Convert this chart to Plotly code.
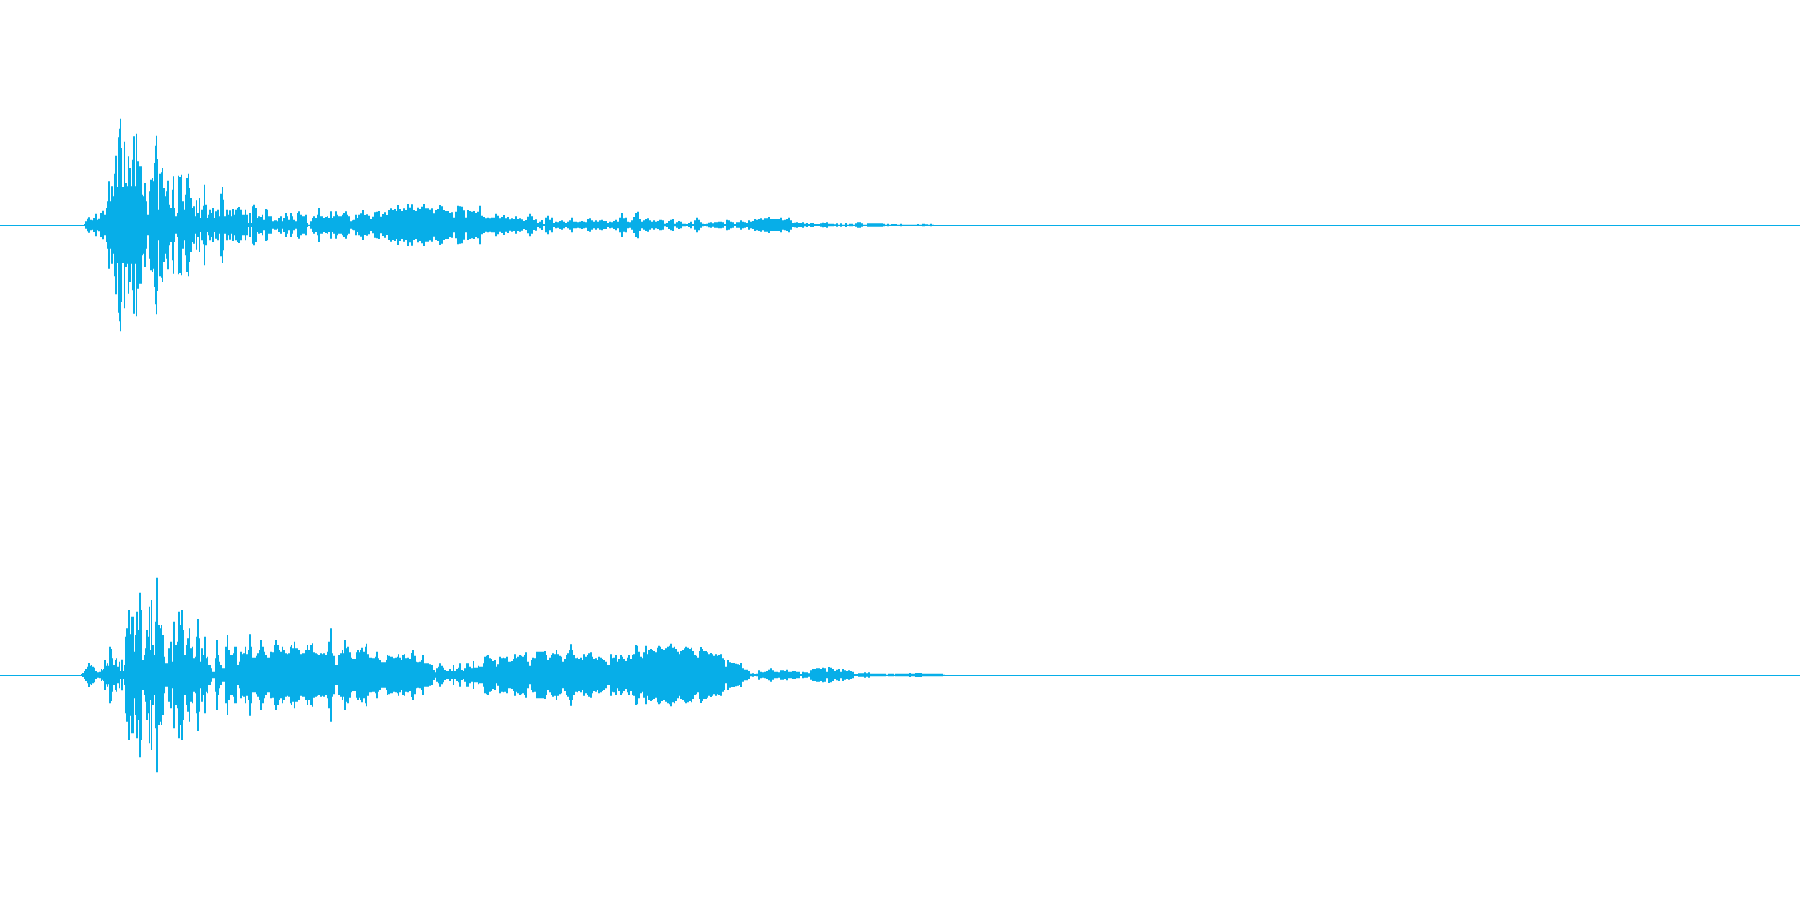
import numpy as np
import plotly.graph_objects as go

# Time unit: 1/3 of a screen column, total 5400 units. Amplitude full scale: +-675.
TOTAL_TIME = 5400
FULL_SCALE = 675
WAVE_COLOR = "#07AEE8"
SEGMENT_STARTS = [180, 1080, 1980]

ch1_t_a = [72,76,80,85,90,95,100,106,110,115,121,127,132,137,141,145,150,154,158,161,165,170,175,178,181,184,187,191,196,200,205,208,212,216,219,224,228,232,236,241,245,249,253,258,262,266,270,275,279,283,286,289,292,295,298,302,306,310,314,318,322,326,330,335,339,342,346,350,354,358,363,367,371,375,379,383,387,391,395,399,404,408,412,416,420,424,428,432,436,440,445,448,453,457,461,465,471,476,481,485,489,493,497,503,508,512,517,522,526,531,535,540,545,550,554,558,563,568,572,576,580,585,590,595,600,605,610,615,620,625,630,636,642,650,655,660,665,670,675,680,685,690,695,700,705,710,715,720,725,730,735,740,745,750,755,760,765,770,775,780,785,790,795,800,805,810,815,820,825,830,835,840,845,850,855,860,865,870,875,880,885,890,895]
ch1_a_a = [3,11,19,23,16,14,21,34,16,19,36,43,31,51,71,131,71,116,86,154,208,114,263,289,319,231,114,250,126,116,206,171,116,196,266,116,274,191,176,176,91,86,126,71,31,101,136,141,131,186,238,268,198,46,154,158,171,111,86,101,133,61,51,106,146,51,26,36,148,144,151,71,46,91,141,154,111,81,51,56,26,74,36,81,21,46,58,121,61,21,31,46,36,51,21,41,46,26,94,114,76,26,46,31,44,26,48,31,46,51,54,46,31,31,46,31,6,36,6,56,61,51,21,26,24,31,16,48,46,26,26,11,14,11,21,26,11,21,36,26,16,36,26,16,11,36,41,31,26,26,31,6,1,11,21,26,21,31,51,26,26,21,24,26,21,41,21,26,41,31,26,26,31,36,41,31,26,11,14,16,31,21,31]

ch1_t_b = [0,6,12,18,24,30,36,42,48,54,60,66,72,78,84,90,96,102,108,112,118,124,130,136,142,148,154,160,166,172,178,184,188,194,200,206,212,218,224,230,238,244,250,256,262,268,274,280,286,292,298,304,310,316,322,328,334,340,346,352,356,362,368,374,380,386,392,398,404,410,416,422,428,434,440,446,452,458,464,470,476,482,488,494,500,506,512,518,524,530,536,542,548,554,560,566,572,578,584,590,596,602,608,614,620,626,632,638,644,650,656,662,668,674,680,686,692,698,704,710,716,722,728,734,740,746,752,758,764,770,776,782,788,794,800,806,812,818,824,830,836,842,848,854,860,866,872,878,884,890,896]
ch1_a_b = [35,45,30,32,28,18,25,38,40,42,25,33,38,30,45,50,45,48,42,60,48,42,50,45,63,52,62,45,42,52,48,55,63,50,50,46,50,35,45,48,60,56,45,42,42,36,38,22,40,58,56,55,44,22,45,42,40,42,36,40,58,28,24,20,22,20,22,22,34,28,20,24,30,20,24,17,20,18,26,18,20,17,12,15,25,34,26,15,17,6,10,15,3,22,28,16,22,6,10,8,12,14,10,6,10,14,22,10,10,8,10,12,10,8,18,20,14,10,14,10,14,16,12,12,6,10,8,12,16,10,22,36,20,22,10,8,14,24,36,40,18,10,14,18,20,14,10,14,10,12,16]

ch1_t_c = [0,6,12,18,24,30,36,42,48,54,60,66,72,78,84,90,96,102,108,114,120,126,132,138,144,150,156,162,168,174,180,186,192,198,204,210,216,222,228,234,240,246,252,258,264,270,276,282,288,294,300,306,312,318,324,330,336,342,348,354,360,366,372,378,384,390,396,402,408,414,420,426,432,438,444,450,456,462,468,474,480,486,492,498,504,510,516,522,528,534,540,546,552,556,562,568,574,580,586,592,598,604,610,616,620,626,632,664,670,676,682,688,694,700,706,712,720,726,770,776,786,792,796,804,810,816]
ch1_a_c = [16,14,4,6,12,16,18,4,8,12,10,4,4,3,6,10,3,14,22,16,8,4,3,4,7,8,5,8,8,10,10,8,3,16,14,10,8,3,8,8,14,10,8,6,14,10,12,18,16,18,20,16,20,20,24,18,18,18,18,18,22,14,16,18,22,14,6,7,8,6,6,8,4,6,3,6,6,3,3,3,5,7,6,8,4,4,4,2,5,1,5,1,1,6,1,4,4,1,5,8,8,5,1,1,5,5,5,5,4,1,4,1,3,3,3,1,4,1,3,1,4,4,2,1,4,1]

ch2_t_a = [63,67,71,75,80,85,89,92,97,101,105,110,116,122,126,129,133,137,141,144,148,152,156,160,164,168,172,176,180,184,188,192,196,199,205,209,214,218,222,225,229,233,238,243,247,251,255,259,263,268,271,274,277,281,285,288,291,295,299,303,307,312,316,320,325,330,335,340,345,350,355,360,364,368,373,378,382,386,390,395,400,405,409,412,417,421,424,429,433,437,441,445,449,453,457,461,465,469,473,477,481,485,490,495,500,504,509,513,518,522,527,532,536,541,546,550,554,558,563,568,572,577,582,587,592,597,601,606,611,615,620,625,630,636,642,646,650,656,660,665,670,675,680,685,689,693,697,701,705,710,715,720,725,730,735,740,745,750,755,760,765,770,775,780,785,790,795,800,805,810,815,820,825,830,835,840,845,850,853,857,862,867,872,877,882,887,892,897]
ch2_a_a = [3,6,12,18,25,36,28,30,25,22,12,8,10,18,14,18,45,28,35,28,85,78,50,30,45,50,25,40,12,46,12,30,115,140,195,122,175,175,70,120,190,135,247,195,45,60,80,135,115,205,75,225,90,60,160,292,292,150,140,150,120,55,35,35,80,100,40,160,90,100,190,150,195,135,60,90,110,140,80,85,50,55,115,168,110,40,80,60,115,50,55,30,30,20,10,10,50,105,60,40,30,20,20,85,120,75,60,60,65,85,85,30,40,70,62,65,85,62,75,122,85,52,52,58,65,75,105,85,70,60,52,52,70,68,90,105,90,75,70,85,75,65,62,65,85,90,80,100,80,80,75,62,65,65,75,90,75,90,95,68,65,62,60,65,62,65,60,70,100,140,65,58,30,30,60,65,75,65,105,80,85,68,52,48,48,68,75,68]

ch2_t_b = [0,4,9,14,18,22,27,31,36,41,45,49,53,58,62,67,72,77,81,85,90,95,100,105,110,113,118,122,126,131,136,141,146,152,156,162,168,172,177,182,187,192,198,203,208,213,218,224,228,233,238,243,248,253,258,263,268,273,278,283,288,293,298,303,308,313,318,323,328,333,338,343,348,353,358,363,368,372,377,382,387,392,397,402,407,412,418,423,428,433,438,443,448,453,458,462,467,472,477,482,487,492,496,501,506,512,517,522,528,533,540,548,552,557,562,567,572,577,582,587,592,597,602,606,612,617,622,627,630,635,640,645,650,655,660,665,670,675,680,685,690,695,700,705,710,715,720,725,730,735,740,745,750,755,760,765,770,775,780,785,790,795,800,805,810,815,820,825,830,835,840,845,850,855,860,865,870,875,880,885,890,895]
ch2_a_b = [75,82,70,85,94,62,52,52,50,50,55,70,50,45,38,38,38,45,60,58,55,55,50,52,55,62,52,45,60,62,50,52,48,66,75,58,40,38,40,45,60,35,35,35,32,30,15,8,20,25,35,28,22,15,12,12,18,12,30,12,18,22,35,15,12,20,35,35,25,20,42,22,22,28,25,25,35,55,58,60,50,48,42,45,25,32,55,50,52,50,55,40,40,42,48,62,50,55,60,58,55,60,68,40,28,45,52,50,70,70,70,70,72,60,45,52,60,65,62,75,62,58,55,40,48,60,65,75,92,75,60,50,52,48,52,45,62,55,60,65,68,55,48,50,45,55,52,48,45,40,30,30,62,50,52,60,40,48,60,55,48,42,52,60,48,60,62,90,88,70,55,50,68,88,62,75,78,75,72,68,82,88]

ch2_t_c = [0,4,9,14,18,22,27,31,36,41,46,51,56,61,66,71,76,81,86,92,97,102,107,112,116,120,125,130,135,140,145,150,155,160,165,170,175,180,186,191,196,201,206,212,218,224,230,236,241,246,252,258,264,270,276,282,288,294,300,306,312,318,324,330,336,342,348,354,360,366,372,378,384,390,396,402,408,414,420,426,432,438,444,450,456,462,468,474,480,486,492,498,504,510,516,522,528,534,540,546,552,558,564,570,576,582,588,594,600,606,612,618,624,630,660,666,672,678,684,696,702,706,714,744,748,754,760,764,770,776,780,786,848]
ch2_a_c = [85,78,75,80,80,85,88,94,82,85,78,70,62,72,75,80,85,82,78,82,72,60,58,52,72,84,78,72,72,68,62,66,62,58,62,58,60,62,50,45,25,45,38,36,36,34,32,30,36,20,16,16,12,4,5,3,4,14,10,8,10,12,16,20,14,10,10,8,14,14,12,16,10,10,12,12,10,10,3,10,8,8,5,14,18,18,20,20,18,22,20,10,24,22,18,12,16,18,10,18,14,12,14,12,10,3,3,5,5,5,8,5,8,4,4,4,4,1,4,4,1,4,4,4,6,4,4,6,6,6,6,4,1]


def envelope(t_parts, a_parts):
    t = np.concatenate([s + np.array(p) for s, p in zip(SEGMENT_STARTS, t_parts)])
    a = np.concatenate([np.array(p) for p in a_parts])
    assert len(t) == len(a)
    t = np.round(t / 3) * 3  # one screen column per time bin
    return np.append(t, t[-1] + 6), np.append(a, a[-1])


fig = go.Figure()
channels = [([ch1_t_a, ch1_t_b, ch1_t_c], [ch1_a_a, ch1_a_b, ch1_a_c], "y"),
            ([ch2_t_a, ch2_t_b, ch2_t_c], [ch2_a_a, ch2_a_b, ch2_a_c], "y2")]
for tp, ap, yax in channels:
    t, a = envelope(tp, ap)
    line = dict(shape="hv", width=0, simplify=False, color=WAVE_COLOR)
    fig.add_trace(go.Scatter(x=t, y=-a, mode="lines", yaxis=yax, line=line,
                             hoverinfo="skip", showlegend=False))
    fig.add_trace(go.Scatter(x=t, y=a, mode="lines", yaxis=yax, line=line,
                             fill="tonexty", fillcolor=WAVE_COLOR,
                             hoverinfo="skip", showlegend=False))

yaxis_style = dict(range=[-FULL_SCALE, FULL_SCALE], showgrid=False, showline=False,
                   showticklabels=False, ticks="", zeroline=True,
                   zerolinecolor=WAVE_COLOR, zerolinewidth=1, fixedrange=True)
fig.update_layout(
    width=1800, height=900, margin=dict(l=0, r=0, t=0, b=0),
    paper_bgcolor="white", plot_bgcolor="white",
    xaxis=dict(range=[0, TOTAL_TIME], showgrid=False, showline=False, showticklabels=False,
               ticks="", zeroline=False, fixedrange=True),
    yaxis=dict(domain=[0.5, 1.0], **yaxis_style),
    yaxis2=dict(domain=[0.0, 0.5], **yaxis_style),
)
fig.write_html("out.html", post_script="document.body.style.margin='0';",
               config=dict(displayModeBar=False))
